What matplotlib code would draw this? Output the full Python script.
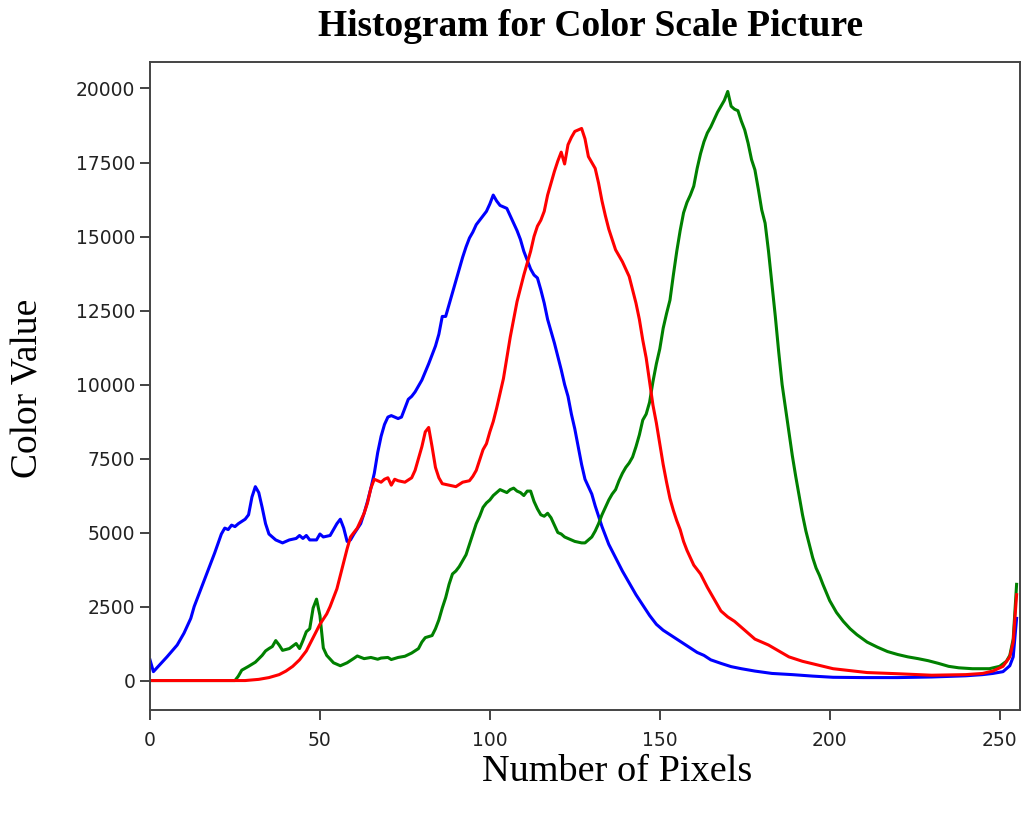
import matplotlib
matplotlib.use("Agg")
import matplotlib.pyplot as plt

# pixel intensity levels and counts, per channel
blue_x = [0, 1, 5, 8, 10, 12, 13, 15, 17, 19, 21, 22, 23, 24, 25, 26, 28, 29, 30, 31,
          32, 33, 34, 35, 37, 39, 41, 43, 44, 45, 46, 47, 49, 50, 51, 53, 55, 56, 57, 58,
          59, 60, 62, 63, 64, 65, 66, 67, 68, 69, 70, 71, 72, 73, 74, 75, 76, 77, 78, 79,
          80, 82, 84, 85, 86, 87, 88, 89, 90, 91, 92, 93, 94, 95, 96, 97, 98, 99, 100, 101,
          102, 103, 104, 105, 106, 107, 108, 109, 110, 111, 112, 113, 114, 115, 116, 117,
          118, 119, 120, 121, 122, 123, 124, 125, 126, 127, 128, 130, 131, 133, 135, 137,
          139, 141, 143, 145, 147, 149, 151, 153, 155, 157, 159, 161, 163, 165, 168, 171,
          174, 178, 183, 189, 195, 201, 210, 220, 230, 240, 245, 248, 251, 253, 254, 255]
blue_y = [700, 300, 800, 1200, 1600, 2100, 2500, 3100, 3700, 4300, 4950, 5150, 5100, 5250,
          5200, 5300, 5450, 5600, 6200, 6550, 6350, 5850, 5300, 4950, 4750, 4650, 4750, 4800,
          4900, 4800, 4900, 4750, 4750, 4950, 4850, 4900, 5300, 5450, 5150, 4700, 4750, 4950,
          5300, 5650, 6050, 6500, 7000, 7700, 8250, 8650, 8900, 8950, 8900, 8850, 8900, 9200,
          9500, 9600, 9750, 9950, 10150, 10700, 11300, 11700, 12300, 12300, 12700, 13100,
          13500, 13900, 14300, 14650, 14950, 15150, 15400, 15550, 15700, 15850, 16100, 16400,
          16200, 16050, 16000, 15950, 15700, 15450, 15200, 14900, 14500, 14200, 13900, 13700,
          13600, 13200, 12750, 12200, 11800, 11400, 10950, 10500, 10000, 9600, 9000, 8500,
          7900, 7300, 6800, 6300, 5900, 5200, 4600, 4150, 3700, 3300, 2900, 2550, 2200, 1900,
          1700, 1550, 1400, 1250, 1100, 950, 850, 700, 580, 470, 400, 320, 240, 200, 150, 110,
          100, 100, 120, 160, 200, 240, 300, 500, 800, 2100]

red_x = [0, 28, 32, 35, 38, 40, 42, 44, 46, 48, 50, 52, 53, 55, 56, 57, 58, 59, 60, 61,
         62, 63, 64, 65, 66, 67, 68, 69, 70, 71, 72, 73, 75, 77, 78, 79, 80, 81, 82, 83,
         84, 85, 86, 88, 90, 92, 94, 95, 96, 97, 98, 99, 100, 101, 102, 103, 104, 105, 106,
         107, 108, 109, 110, 111, 112, 113, 114, 115, 116, 117, 118, 119, 120, 121, 122, 123,
         124, 125, 126, 127, 128, 129, 130, 131, 132, 133, 134, 135, 136, 137, 138, 139, 140,
         141, 142, 143, 144, 145, 146, 147, 148, 149, 150, 151, 152, 153, 154, 155, 156, 157,
         158, 160, 162, 164, 166, 168, 170, 172, 175, 178, 182, 188, 192, 201, 211, 220, 230,
         240, 245, 248, 251, 253, 254, 255]
red_y = [0, 0, 40, 100, 200, 320, 480, 700, 1000, 1450, 1900, 2250, 2500, 3100, 3550, 4000,
         4450, 4850, 5000, 5150, 5400, 5650, 6000, 6500, 6800, 6750, 6700, 6800, 6850, 6600,
         6800, 6750, 6700, 6850, 7100, 7500, 7900, 8400, 8550, 7900, 7200, 6850, 6650, 6600,
         6550, 6700, 6750, 6900, 7100, 7450, 7800, 8000, 8400, 8750, 9200, 9700, 10200, 10900,
         11600, 12200, 12800, 13250, 13700, 14100, 14500, 15000, 15350, 15550, 15850, 16400,
         16800, 17200, 17550, 17850, 17450, 18100, 18350, 18550, 18600, 18650, 18300, 17700,
         17500, 17300, 16800, 16200, 15700, 15250, 14900, 14550, 14350, 14150, 13900, 13650,
         13200, 12750, 12200, 11500, 10900, 10100, 9300, 8700, 8000, 7300, 6700, 6150, 5750,
         5400, 5100, 4700, 4400, 3900, 3600, 3150, 2750, 2350, 2150, 2000, 1700, 1400, 1200,
         800, 650, 400, 270, 230, 180, 200, 240, 320, 480, 800, 1300, 2900]

green_x = [0, 25, 26, 27, 29, 31, 33, 34, 35, 36, 37, 38, 39, 41, 43, 44, 45, 46, 47, 48,
           49, 50, 51, 52, 54, 56, 58, 60, 61, 63, 65, 67, 68, 70, 71, 73, 75, 77, 79, 80,
           81, 83, 84, 85, 86, 87, 88, 89, 90, 91, 92, 93, 94, 95, 96, 97, 98, 99, 100, 101,
           102, 103, 104, 105, 106, 107, 108, 109, 110, 111, 112, 113, 114, 115, 116, 117,
           118, 119, 120, 121, 122, 123, 125, 127, 128, 129, 130, 131, 132, 133, 134, 135,
           136, 137, 138, 139, 140, 141, 142, 143, 144, 145, 146, 147, 148, 149, 150, 151,
           152, 153, 154, 155, 156, 157, 158, 159, 160, 161, 162, 163, 164, 165, 166, 167,
           168, 169, 170, 171, 172, 173, 174, 175, 176, 177, 178, 179, 180, 181, 182, 183,
           184, 185, 186, 187, 188, 189, 190, 191, 192, 193, 194, 195, 196, 197, 198, 200,
           202, 204, 206, 208, 211, 214, 217, 220, 223, 226, 229, 232, 235, 238, 242, 247,
           250, 252, 253, 254, 255]
green_y = [0, 0, 150, 350, 480, 620, 850, 1000, 1080, 1150, 1350, 1200, 1020, 1080, 1250,
           1080, 1350, 1650, 1750, 2450, 2750, 2200, 1100, 850, 600, 500, 600, 750, 830, 740,
           780, 720, 760, 780, 710, 780, 820, 930, 1080, 1300, 1450, 1520, 1750, 2050, 2450,
           2800, 3250, 3600, 3700, 3850, 4050, 4250, 4600, 4950, 5300, 5550, 5850, 6000, 6100,
           6250, 6350, 6450, 6400, 6350, 6450, 6500, 6400, 6350, 6250, 6400, 6400, 6050, 5800,
           5600, 5550, 5650, 5500, 5250, 5000, 4950, 4850, 4800, 4700, 4650, 4650, 4750, 4850,
           5050, 5300, 5600, 5850, 6100, 6300, 6450, 6750, 7000, 7200, 7350, 7550, 7900, 8300,
           8800, 9000, 9400, 10100, 10700, 11200, 11900, 12400, 12850, 13700, 14500, 15200,
           15800, 16150, 16400, 16700, 17300, 17800, 18200, 18500, 18700, 18950, 19200, 19400,
           19600, 19900, 19400, 19300, 19250, 18900, 18600, 18150, 17600, 17250, 16600, 15900,
           15450, 14500, 13400, 12300, 11100, 10000, 9200, 8400, 7600, 6900, 6250, 5600, 5050,
           4600, 4150, 3800, 3550, 3250, 2700, 2300, 2000, 1750, 1550, 1300, 1130, 980, 880,
           800, 740, 670, 580, 480, 430, 400, 400, 480, 650, 850, 1400, 3250]

fig = plt.figure(figsize=(10.29, 8.13), dpi=100)
ax = fig.add_subplot(111)
fig.subplots_adjust(left=150 / 1029, right=1020 / 1029, top=1 - 62 / 813, bottom=1 - 710 / 813)

ax.plot(blue_x, blue_y, color='b', linewidth=2.2)
ax.plot(green_x, green_y, color='g', linewidth=2.2)
ax.plot(red_x, red_y, color='r', linewidth=2.2)

ax.set_xlim([0, 256])
ax.tick_params(labelsize=13.5, length=7, width=1.2, colors='#222222')
ax.tick_params(axis='x', pad=8)
for sp in ax.spines.values():
    sp.set_color('#444444')
    sp.set_linewidth(1.4)

serif = ['Liberation Serif', 'DejaVu Serif']
fig.text(591 / 1029, 1 - 26 / 813, "Histogram for Color Scale Picture", ha='center', va='center',
         fontsize=27, fontweight='bold', family=serif)
# axis labels placed where they sit in the picture
fig.text(617 / 1029, 1 - 772 / 813, "Number of Pixels", ha='center', va='center',
         fontsize=27.5, family=serif)
fig.text(28 / 1029, 1 - 388 / 813, "Color Value", ha='center', va='center',
         rotation=90, fontsize=27, family=serif)

fig.savefig("out.png", dpi=100)
